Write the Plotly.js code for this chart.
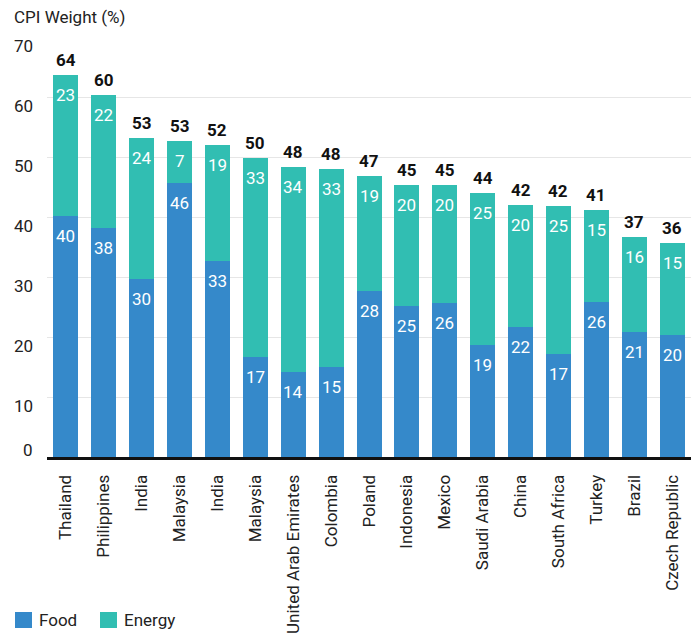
<!DOCTYPE html>
<html>
<head>
<meta charset="utf-8">
<script src="https://cdn.plot.ly/plotly-3.0.1.min.js"></script>
<style>
  html, body { margin: 0; padding: 0; background: #fff; }
  #chart { width: 696px; height: 633px; }
</style>
</head>
<body>
<div id="chart"></div>
<script>
// CPI weights of food and energy by country (%)
const countries = [
  "Thailand", "Philippines", "India", "Malaysia", "India", "Malaysia",
  "United Arab Emirates", "Colombia", "Poland", "Indonesia", "Mexico",
  "Saudi Arabia", "China", "South Africa", "Turkey", "Brazil", "Czech Republic"
];
const food   = [40.2, 38.2, 29.6, 45.7, 32.7, 16.7, 14.2, 15.0, 27.7, 25.1, 25.7, 18.7, 21.6, 17.2, 25.8, 20.8, 20.3];
const energy = [23.4, 22.1, 23.6, 6.9, 19.3, 33.1, 34.1, 33.0, 19.1, 20.3, 19.6, 25.3, 20.4, 24.6, 15.4, 15.9, 15.4];
const yTicks = [0, 10, 20, 30, 40, 50, 60, 70];

const FONT = "Roboto, 'Liberation Sans', sans-serif";
const FOOD_COLOR = "#3589ca";
const ENERGY_COLOR = "#31beb2";
const TEXT_COLOR = "#222222";

// unique category keys so repeated country names get their own bars
const keys = countries.map((c, i) => i);
const totals = food.map((f, i) => f + energy[i]);

const traces = [
  { type: "bar", name: "Food", x: keys, y: food, marker: { color: FOOD_COLOR }, hoverinfo: "skip" },
  { type: "bar", name: "Energy", x: keys, y: energy, marker: { color: ENERGY_COLOR }, hoverinfo: "skip" }
];

// white value labels just under the top of each segment
const segLabel = (k, top, v) => ({
  x: k, y: top, xref: "x", yref: "y",
  text: v.toFixed(0), showarrow: false,
  yanchor: "top", yshift: -8,
  font: { family: FONT, size: 17, color: "#ffffff" }
});

const annotations = [];
keys.forEach((k, i) => {
  annotations.push(segLabel(k, food[i], food[i]));
  annotations.push(segLabel(k, totals[i], energy[i]));
  // bold total above the bar
  annotations.push({
    x: k, y: totals[i], xref: "x", yref: "y",
    text: "<b>" + totals[i].toFixed(0) + "</b>",
    showarrow: false, yanchor: "bottom", yshift: 3,
    font: { family: FONT, size: 17, color: "#111111" }
  });
});

// y tick labels hang just below their gridline; the baseline label sits on the axis
yTicks.forEach(t => {
  annotations.push({
    xref: "paper", yref: "y", x: 0, y: t, xshift: -12,
    xanchor: "right", yanchor: t === 0 ? "bottom" : "top",
    yshift: t === 0 ? -5 : 3,
    showarrow: false, text: String(t),
    font: { family: FONT, size: 17, color: TEXT_COLOR }
  });
});

// legend: colour square plus series name
const legendItems = [
  { name: traces[0].name, color: FOOD_COLOR, x0: 15 },
  { name: traces[1].name, color: ENERGY_COLOR, x0: 100 }
];
const shapes = [];
const plotW = 696 - 47 - 5, plotH = 633 - 37 - 176;
const px = v => (v - 47) / plotW;
const py = v => (633 - 176 - v) / plotH;
legendItems.forEach(it => {
  shapes.push({
    type: "rect", xref: "paper", yref: "paper",
    x0: px(it.x0), x1: px(it.x0 + 17), y0: py(628), y1: py(612),
    fillcolor: it.color, line: { width: 0 }
  });
  annotations.push({
    xref: "paper", yref: "paper", x: px(it.x0 + 22), y: py(620),
    xanchor: "left", yanchor: "middle", showarrow: false,
    text: it.name, font: { family: FONT, size: 17, color: TEXT_COLOR }
  });
});

const layout = {
  width: 696, height: 633,
  margin: { l: 47, r: 5, t: 37, b: 176 },
  paper_bgcolor: "#ffffff", plot_bgcolor: "#ffffff",
  barmode: "stack", bargap: 0.34,
  font: { family: FONT, size: 17, color: TEXT_COLOR },
  title: {
    text: "CPI Weight (%)",
    xref: "container", yref: "container",
    x: 14 / 696, xanchor: "left",
    y: 1 - 17 / 633, yanchor: "middle",
    font: { family: FONT, size: 17, color: TEXT_COLOR }
  },
  xaxis: {
    tickmode: "array", tickvals: keys, ticktext: countries,
    tickangle: -90, ticks: "outside", ticklen: 8, tickcolor: "rgba(0,0,0,0)",
    showline: true, linecolor: "#111111", linewidth: 3,
    showgrid: false, fixedrange: true,
    tickfont: { family: FONT, size: 17, color: TEXT_COLOR }
  },
  yaxis: {
    range: [0, 70], tickmode: "array", tickvals: yTicks,
    showticklabels: false, ticks: "",
    showgrid: true, gridcolor: "#e6e6e6", gridwidth: 1,
    zeroline: false, showline: false, fixedrange: true
  },
  showlegend: false,
  shapes: shapes,
  annotations: annotations
};

Plotly.newPlot("chart", traces, layout, { displayModeBar: false, staticPlot: true });
</script>
</body>
</html>
